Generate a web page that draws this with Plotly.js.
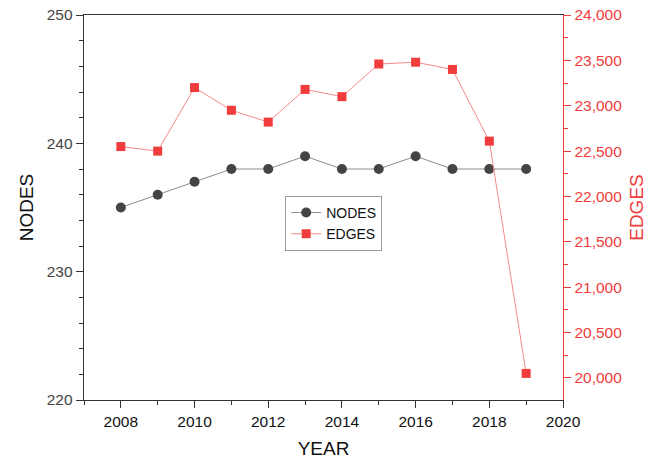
<!DOCTYPE html>
<html><head><meta charset="utf-8">
<script src="https://cdn.plot.ly/plotly-3.0.1.min.js"></script>
<style>body{margin:0;background:#fff}#c{width:650px;height:465px}</style>
</head><body><div id="c"></div>
<script>
const years = [2008,2009,2010,2011,2012,2013,2014,2015,2016,2017,2018,2019];
const nodes = [235,236,237,238,238,239,238,238,239,238,238,238];
const edges = [22550,22500,23200,22950,22820,23180,23100,23460,23480,23400,22610,20050];

const fam = '"Liberation Sans", Arial, sans-serif';
const red = '#f03c3c';
const traces = [
  {x:years, y:nodes, name:'NODES', type:'scatter', mode:'lines+markers',
   line:{color:'#8c8c8c', width:1}, marker:{symbol:'circle', size:10, color:'#444'}},
  {x:years, y:edges, name:'EDGES', type:'scatter', mode:'lines+markers', yaxis:'y2',
   line:{color:'#f58a8a', width:1}, marker:{symbol:'square', size:9, color:red}}
];
const layout = {
  width:650, height:465, margin:{l:84, r:87, t:15, b:65},
  paper_bgcolor:'#fff', plot_bgcolor:'#fff', font:{family:fam, size:15, color:'#333'}, showlegend:true,
  xaxis:{range:[2007,2020], dtick:2, tick0:2008, showgrid:false, zeroline:false,
    showline:true, linecolor:'#333', linewidth:1.3, mirror:true,
    ticks:'outside', ticklen:7, tickcolor:'#333',
    minor:{dtick:1, ticks:'outside', ticklen:4, tickcolor:'#333'},
    tickfont:{family:fam, size:15.5, color:'#111'},
    title:{text:'YEAR', font:{family:fam, size:19, color:'#111'}, standoff:12}},
  yaxis:{range:[220,250], dtick:10, showgrid:false, zeroline:false,
    showline:true, linecolor:'#333', linewidth:1.3,
    ticks:'outside', ticklen:7, tickcolor:'#333',
    minor:{dtick:2, ticks:'outside', ticklen:4, tickcolor:'#333'},
    tickfont:{family:fam, size:15.5, color:'#444'},
    title:{text:'NODES', font:{family:fam, size:19, color:'#111'}, standoff:8}},
  yaxis2:{overlaying:'y', side:'right', range:[19757,24000], tick0:20000, dtick:500,
    tickformat:',d', showgrid:false, zeroline:false,
    showline:true, linecolor:red, linewidth:1.3,
    ticks:'outside', ticklen:7, tickcolor:red,
    minor:{dtick:250, ticks:'outside', ticklen:4, tickcolor:red},
    tickfont:{family:fam, size:15.5, color:red},
    title:{text:'EDGES', font:{family:fam, size:19, color:red}, standoff:8}},
  legend:{x:0.42, y:0.53, xanchor:'left', yanchor:'top', bgcolor:'rgba(255,255,255,0)',
    bordercolor:'#999', borderwidth:1, font:{family:fam, size:14, color:'#111'},
    tracegroupgap:0, itemwidth:30}
};
Plotly.newPlot('c', traces, layout, {displayModeBar:false, staticPlot:true});
</script></body></html>
